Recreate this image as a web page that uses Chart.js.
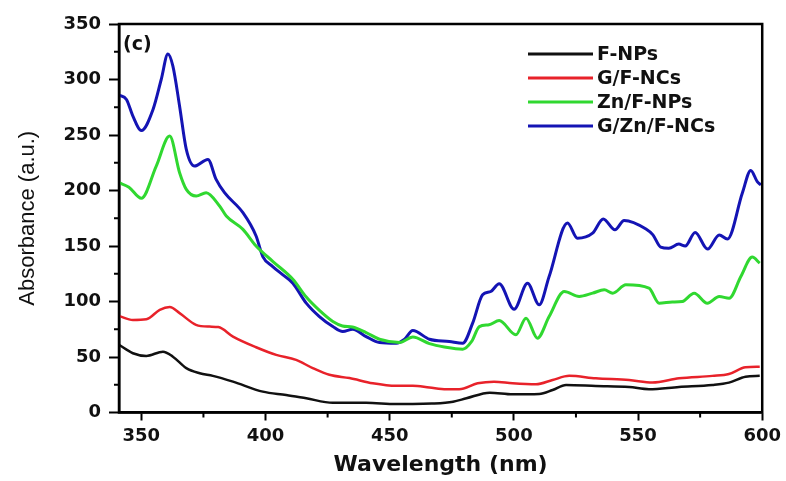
<!DOCTYPE html>
<html>
<head>
<meta charset="utf-8">
<script src="https://cdn.jsdelivr.net/npm/chart.js@4"></script>
<style>
  html, body { margin: 0; padding: 0; background: #fff; }
  #wrap { width: 786px; height: 481px; position: relative; }
</style>
</head>
<body>
<div id="wrap"><canvas id="chart"></canvas></div>
<script>
// Series names and colours
const SERIES_LABELS = ['F-NPs', 'G/F-NCs', 'Zn/F-NPs', 'G/Zn/F-NCs'];
const SERIES_COLORS = ['#111111', '#e8222a', '#30d830', '#1414b4'];

// Wavelength (nm) / absorbance
const fnpX = [341, 346.6, 352, 358.7, 362.7, 368.1, 373.5, 378.8, 386.9, 398.9, 408.3, 416.4, 427.1, 440.5, 452.6, 459.3, 467, 475.5, 480.9, 490.3, 499.5, 510.2, 515.6, 521, 533, 546.4, 554.4, 566.5, 579.9, 586.6, 593.3, 599];
const fnpY = [61, 53.4, 51, 54.8, 50.3, 40, 35.4, 33, 27.8, 18.8, 15.8, 12.8, 8.8, 8.8, 7.6, 7.6, 8, 9.7, 12.8, 17.9, 16.4, 16.7, 20.3, 24.8, 23.9, 23, 21, 23, 24.8, 26.9, 32.3, 33];

const gfX = [341, 346.6, 352, 357.4, 361.4, 365.4, 372, 377.4, 381, 386.9, 396.2, 404.3, 412.3, 419, 425.7, 433.8, 443.2, 452.6, 459.3, 466, 472.8, 478, 485.4, 492, 499.5, 508.9, 515.6, 522.3, 533, 546.4, 555.8, 566.5, 579.9, 586.6, 593.3, 599];
const gfY = [87, 83.4, 84, 92.5, 95, 89.5, 79, 77.4, 77, 68.4, 58.8, 51.9, 47.4, 40, 34, 31, 26.3, 24, 24, 22.5, 21, 21, 26.3, 27.8, 26.3, 25.4, 29.3, 33, 30.8, 29.3, 27, 30.8, 33, 34.7, 40.8, 41.3];

const znX = [341, 345, 350, 356, 361.4, 365.4, 368.1, 372.1, 376.1, 381.5, 384.2, 390.9, 396.2, 403, 411, 416.4, 421.7, 427.1, 431, 435, 440.5, 445.9, 454, 459.3, 466, 472, 479.4, 483, 486.1, 490, 494.1, 500.8, 504.9, 509.5, 514.2, 520.3, 526.3, 531.7, 536.4, 539.8, 545.1, 554.4, 558.5, 563.8, 567.8, 572.6, 577.9, 582.7, 586.7, 591.4, 596, 599];
const znY = [207, 203, 193, 222, 249, 216, 201, 195, 198, 186, 177, 165, 150, 136, 120, 104, 92, 82, 78, 77, 72, 66, 63, 68, 62, 59, 57, 64, 77.4, 79, 82.8, 70, 85, 67, 86.4, 109, 104.5, 107.5, 110.5, 107.5, 115, 112, 98.5, 99.5, 100, 107.5, 98.5, 104.5, 103, 122.5, 140, 134.6];

const gznX = [341, 344, 346.6, 350, 354.7, 358, 360.7, 362.7, 365.4, 368.1, 371.4, 376.8, 380.1, 383.5, 390.9, 396.2, 398.9, 402.9, 407, 411, 416.4, 421.7, 427.1, 431.1, 435.1, 440.5, 445.9, 452.6, 456, 459.3, 466, 474, 479.4, 483.4, 487.4, 490.7, 494.1, 500.1, 505.5, 510.2, 514.2, 521.6, 525.6, 531.7, 536, 540.7, 544.4, 553.2, 556, 559.1, 562.4, 566.4, 569, 573, 578, 582.7, 586, 592, 595.4, 598, 599.5];
const gznY = [286, 282, 267, 254, 273, 300, 323, 312, 276, 237, 222, 228, 210, 198, 180, 159, 140.5, 131.5, 124, 116.5, 98.5, 86.4, 77.4, 72.9, 75, 68.4, 63, 62.4, 66, 73.8, 66, 64, 62.4, 80.5, 106, 109, 116, 93, 116.5, 97, 122.5, 170.7, 157, 161.6, 174.3, 164.6, 173, 165.3, 160, 149, 148, 151.7, 150, 162.2, 147.2, 160, 156.2, 197.7, 218.1, 208, 205];

const SERIES_X = [fnpX, gfX, znX, gznX];
const SERIES_Y = [fnpY, gfY, znY, gznY];
const LINE_WIDTHS = [2.5, 2.5, 3, 3];

// Axis ranges and ticks
const X_MIN = 341, X_MAX = 600;
const Y_MIN = 0, Y_MAX = 350;
const X_MAJOR = [350, 400, 450, 500, 550, 600];
const X_MINOR = [375, 425, 475, 525, 575];
const Y_MAJOR = [0, 50, 100, 150, 200, 250, 300, 350];
const Y_MINOR = [25, 75, 125, 175, 225, 275, 325];

const TICK_FONT = { family: 'DejaVu Sans', weight: 'bold', size: 18 };

// Рамка, мелкие штрихи, легенда и метка (c)
const decorPlugin = {
    id: 'decor',
    afterDraw(chart) {
        const { ctx, chartArea: a, scales } = chart;
        ctx.save();
        ctx.strokeStyle = '#000';
        ctx.lineWidth = 2.5;
        ctx.strokeRect(a.left, a.top, a.right - a.left, a.bottom - a.top);

        // minor ticks
        ctx.lineWidth = 2;
        ctx.beginPath();
        X_MINOR.forEach(v => {
            const px = scales.x.getPixelForValue(v);
            ctx.moveTo(px, a.bottom);
            ctx.lineTo(px, a.bottom + 5);
        });
        Y_MINOR.forEach(v => {
            const py = scales.y.getPixelForValue(v);
            ctx.moveTo(a.left, py);
            ctx.lineTo(a.left - 5, py);
        });
        ctx.stroke();

        // panel label
        ctx.fillStyle = '#111';
        ctx.font = 'bold 19px "DejaVu Sans"';
        ctx.textBaseline = 'middle';
        ctx.textAlign = 'left';
        ctx.fillText('(c)', a.left + 4, 45);

        // legend
        ctx.font = 'bold 19px "DejaVu Sans"';
        chart.data.datasets.forEach((ds, i) => {
            const y = 54 + i * 24;
            ctx.strokeStyle = ds.borderColor;
            ctx.lineWidth = 3;
            ctx.beginPath();
            ctx.moveTo(528, y);
            ctx.lineTo(593, y);
            ctx.stroke();
            ctx.fillStyle = '#111';
            ctx.fillText(ds.label, 597, y + 1);
        });
        ctx.restore();
    }
};

const datasets = SERIES_LABELS.map((label, i) => ({
    label: label,
    data: SERIES_X[i].map((x, j) => ({ x: x, y: SERIES_Y[i][j] })),
    borderColor: SERIES_COLORS[i],
    borderWidth: LINE_WIDTHS[i],
    pointRadius: 0,
    cubicInterpolationMode: 'monotone',
    fill: false
}));

new Chart(document.getElementById('chart'), {
    type: 'line',
    data: { datasets },
    options: {
        responsive: true,
        maintainAspectRatio: false,
        animation: false,
        layout: { padding: { top: 24, right: 23, left: 0, bottom: 0 } },
        plugins: {
            legend: { display: false },
            tooltip: { enabled: false }
        },
        scales: {
            x: {
                type: 'linear',
                min: X_MIN,
                max: X_MAX,
                afterBuildTicks: s => { s.ticks = X_MAJOR.map(v => ({ value: v })); },
                afterFit: s => { s.height = 68.5; },
                grid: { drawOnChartArea: false, tickLength: 8, tickWidth: 2, tickColor: '#000' },
                border: { display: true, color: '#000', width: 2.5 },
                ticks: { color: '#111', font: TICK_FONT, padding: 5, maxRotation: 0 },
                title: {
                    display: true,
                    text: 'Wavelength (nm)',
                    color: '#111',
                    font: { family: 'DejaVu Sans', weight: 'bold', size: 22 },
                    padding: { top: 0, bottom: 3 }
                }
            },
            y: {
                type: 'linear',
                min: Y_MIN,
                max: Y_MAX,
                afterBuildTicks: s => { s.ticks = Y_MAJOR.map(v => ({ value: v })); },
                afterFit: s => { s.width = 119; },
                grid: { drawOnChartArea: false, tickLength: 10, tickWidth: 2, tickColor: '#000' },
                border: { display: true, color: '#000', width: 2.5 },
                ticks: { color: '#111', font: TICK_FONT, padding: 8 },
                title: {
                    display: true,
                    text: 'Absorbance (a.u.)',
                    color: '#111',
                    font: { family: 'Liberation Sans', size: 22 },
                    padding: { top: 15, bottom: 0 }
                }
            }
        }
    },
    plugins: [decorPlugin]
});
</script>
</body>
</html>
